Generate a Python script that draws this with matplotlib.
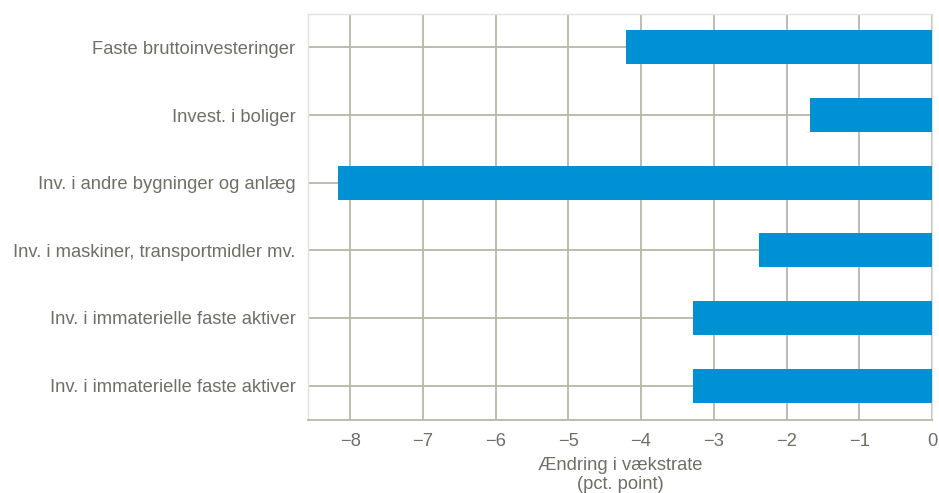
import matplotlib

matplotlib.use("Agg")
import matplotlib.pyplot as plt

plt.rcParams["font.family"] = ["Liberation Sans", "DejaVu Sans"]

# change in growth rate, pct. point
CATEGORIES = [
    "Faste bruttoinvesteringer",
    "Invest. i boliger",
    "Inv. i andre bygninger og anlæg",
    "Inv. i maskiner, transportmidler mv.",
    "Inv. i immaterielle faste aktiver",
    "Inv. i immaterielle faste aktiver",
]
VALUES = [-4.20, -1.68, -8.17, -2.38, -3.28, -3.28]
XTICKS = [-8, -7, -6, -5, -4, -3, -2, -1, 0]

GRID = "#b8b7a8"
TEXT = "#6f6f65"
BLUE = "#0091d5"

fig = plt.figure(figsize=(9.39, 4.93), dpi=100)
ax = fig.add_axes([308 / 939, 1 - 419.5 / 493, 624 / 939, 406 / 493])

y = list(range(len(CATEGORIES)))
ax.barh(y, VALUES, height=0.5, color=BLUE, zorder=3)

ax.set_yticks(y)
ax.set_yticklabels(CATEGORIES)
ax.set_xticks(XTICKS)
ax.set_xticklabels([str(t).replace("-", "\u2212") for t in XTICKS])
ax.set_ylim(5.5, -0.5)
ax.set_xlim(min(VALUES) * 1.05, 0)

ax.grid(True, color=GRID, linewidth=1.3, zorder=0)
ax.set_axisbelow(True)
ax.tick_params(length=0, labelsize=13.2, labelcolor=TEXT)
ax.tick_params(axis="y", pad=9)
ax.tick_params(axis="x", pad=10)

for side in ["top", "right", "left"]:
    ax.spines[side].set_color("#e2e2dc")
    ax.spines[side].set_linewidth(1.0)
ax.spines["bottom"].set_color(GRID)
ax.spines["bottom"].set_linewidth(1.3)

ax.set_xlabel("Ændring i vækstrate\n(pct. point)", fontsize=13.2, color=TEXT,
              labelpad=5, linespacing=1.15)

fig.savefig("out.png", dpi=100, facecolor="white")
